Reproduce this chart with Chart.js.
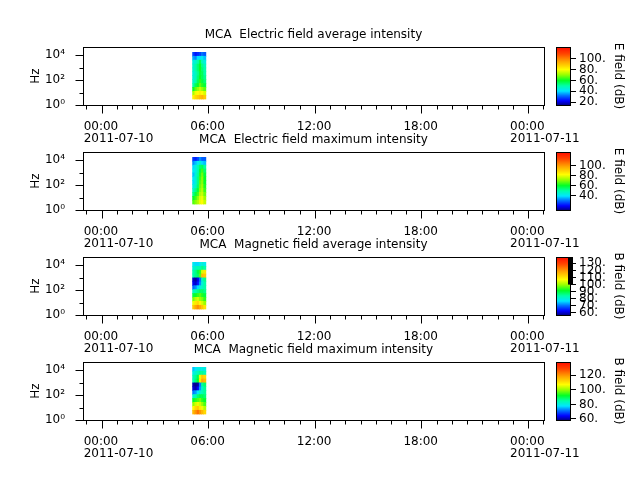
<!DOCTYPE html>
<html lang="en">
<head>
<meta charset="UTF-8">
<title>MCA spectrograms</title>
<script src="https://cdn.jsdelivr.net/npm/chart.js"></script>
<style>
  body { margin: 0; background: #fff; }
  #wrap { position: relative; width: 640px; height: 480px; overflow: hidden; }
  #wrap canvas { position: absolute; }
</style>
</head>
<body>
<div id="wrap"></div>
<script>
// ---- data ----
const titles = [
  'MCA  Electric field average intensity',
  'MCA  Electric field maximum intensity',
  'MCA  Magnetic field average intensity',
  'MCA  Magnetic field maximum intensity'
];
const cbTitles = ['E field (dB)', 'E field (dB)', 'B field (dB)', 'B field (dB)'];
const cbRanges = [[15, 121], [11, 127], [57, 139], [58.6, 138.4]];
const cbTicks = [
  [20, 40, 60, 80, 100],
  [40, 60, 80, 100],
  [60, 70, 80, 90, 100, 110, 120, 130],
  [60, 80, 100, 120]
];
const timeTicks = [0, 6, 12, 18, 24];          // hours
const dateLabels = ['2011-07-10', '2011-07-11'];
const yTicks = [1, 100, 10000];
const yTickLabels = ['10\u2070', '10\u00b2', '10\u2074'];
const yMinorTicks = [10, 1000];

const colTimes = [5.18, 5.305, 5.43, 5.555, 5.68, 5.805];   // column centres, hours UT
const freqEdges = [3, 6, 12.5, 26, 53, 108, 222, 455, 930, 1900, 3900, 8000, 16500]; // Hz

// rows: lowest frequency band first, one dB value per column
const eAvg = [
  [82, 86, 88, 90, 92, 88],
  [72, 78, 80, 82, 80, 76],
  [60, 66, 70, 74, 70, 66],
  [50, 56, 60, 66, 62, 58],
  [46, 50, 56, 62, 58, 54],
  [45, 48, 54, 60, 56, 52],
  [44, 48, 52, 58, 56, 50],
  [46, 50, 54, 60, 54, 50],
  [46, 50, 54, 60, 52, 48],
  [44, 46, 50, 56, 48, 44],
  [36, 34, 40, 40, 42, 38],
  [28, 24, 26, 28, 32, 30]
];
const eMax = [
  [66, 70, 74, 80, 82, 76],
  [60, 64, 70, 78, 80, 72],
  [52, 58, 64, 74, 76, 68],
  [46, 52, 58, 70, 74, 64],
  [42, 46, 54, 68, 72, 62],
  [38, 44, 52, 66, 70, 60],
  [40, 44, 52, 64, 70, 60],
  [36, 44, 50, 62, 68, 58],
  [40, 42, 48, 58, 64, 54],
  [38, 42, 48, 54, 56, 50],
  [32, 36, 40, 44, 38, 36],
  [24, 22, 26, 32, 28, 28]
];
const bAvg = [
  [114, 118, 121, 118, 114, 110],
  [106, 110, 112, 108, 104, 100],
  [98, 102, 104, 100, 98, 94],
  [90, 92, 94, 96, 93, 90],
  [82, 84, 86, 88, 88, 86],
  [70, 72, 76, 80, 82, 84],
  [62, 60, 64, 72, 80, 84],
  [60, 58, 62, 70, 82, 86],
  [84, 86, 88, 96, 116, 114],
  [84, 86, 90, 94, 104, 110],
  [80, 82, 84, 84, 86, 84],
  [78, 76, 76, 78, 80, 78]
];
const bMax = [
  [116, 120, 124, 120, 116, 112],
  [108, 112, 114, 110, 106, 102],
  [100, 104, 106, 104, 100, 96],
  [92, 94, 96, 98, 94, 92],
  [82, 84, 88, 90, 90, 88],
  [72, 74, 78, 82, 84, 86],
  [62, 60, 64, 74, 82, 86],
  [60, 58, 60, 72, 86, 88],
  [84, 88, 92, 110, 118, 116],
  [84, 86, 90, 106, 114, 112],
  [80, 82, 84, 86, 86, 84],
  [76, 78, 80, 80, 80, 80]
];
const grids = [eAvg, eMax, bAvg, bMax];

// ---- layout / style ----
const FONT = "'DejaVu Sans', sans-serif";
Chart.defaults.font.family = FONT;
Chart.defaults.color = '#000';
const panelTop = [47, 152, 257, 362];
const panelH = 58;

const cmapStops = [
  [0, 0, 0, 140], [0.07, 0, 0, 255], [0.16, 0, 110, 255], [0.24, 0, 230, 255],
  [0.33, 0, 255, 170], [0.42, 0, 255, 40], [0.52, 150, 255, 0], [0.61, 255, 255, 0],
  [0.75, 255, 165, 0], [0.88, 255, 70, 0], [1, 255, 10, 0]
];
function cmap(f) {
  f = Math.min(1, Math.max(0, f));
  for (let i = 1; i < cmapStops.length; i++) {
    if (f <= cmapStops[i][0]) {
      const a = cmapStops[i - 1], b = cmapStops[i];
      const t = (f - a[0]) / (b[0] - a[0]);
      const c = [1, 2, 3].map(k => Math.round(a[k] + (b[k] - a[k]) * t));
      return `rgb(${c[0]},${c[1]},${c[2]})`;
    }
  }
  return 'rgb(255,10,0)';
}

const wrap = document.getElementById('wrap');
function makeCanvas(left, top, w, h) {
  const c = document.createElement('canvas');
  c.width = w; c.height = h;
  c.style.left = left + 'px'; c.style.top = top + 'px';
  c.style.width = w + 'px'; c.style.height = h + 'px';
  wrap.appendChild(c);
  return c;
}

function line(ctx, x1, y1, x2, y2) {
  ctx.beginPath(); ctx.moveTo(x1, y1); ctx.lineTo(x2, y2); ctx.stroke();
}

// box round the axes plus major/minor ticks (matplotlib style)
const axesFrame = {
  id: 'axesFrame',
  afterDraw(chart) {
    const { ctx, chartArea: a, scales: { x, y } } = chart;
    ctx.save();
    ctx.strokeStyle = '#000'; ctx.lineWidth = 1;
    const L = Math.round(a.left) + 0.5, T = Math.round(a.top) + 0.5;
    const R = Math.round(a.right) + 0.5, B = Math.round(a.bottom) + 0.5;
    ctx.strokeRect(L, T, R - L, B - T);
    timeTicks.forEach(v => { const px = Math.round(x.getPixelForValue(v)) + 0.5; line(ctx, px, B, px, B + 8); });
    for (let k = -7; k <= 35; k++) {
      const v = k * 6 / 7;
      if (k % 7 === 0 || v < x.min || v > x.max) continue;
      const px = Math.round(x.getPixelForValue(v)) + 0.5;
      line(ctx, px, B, px, B + 4);
    }
    yTicks.forEach(v => { const py = Math.round(y.getPixelForValue(v)) + 0.5; line(ctx, L, py, L - 8, py); });
    yMinorTicks.forEach(v => { const py = Math.round(y.getPixelForValue(v)) + 0.5; line(ctx, L, py, L - 4, py); });
    ctx.restore();
  }
};

function makePanel(i) {
  const grid = grids[i];
  const [lo, hi] = cbRanges[i];
  const canvas = makeCanvas(0, panelTop[i] - 25, 640, 25 + panelH + 40);
  new Chart(canvas, {
    type: 'bar',
    data: {
      datasets: grid.map((row, r) => ({
        data: colTimes.map((t, c) => ({ x: t, y: [freqEdges[r], freqEdges[r + 1]], v: row[c] })),
        backgroundColor: ctx => ctx.raw ? cmap((ctx.raw.v - lo) / (hi - lo)) : '#000',
        borderWidth: 0,
        barPercentage: 1,
        categoryPercentage: 1,
        grouped: false
      }))
    },
    options: {
      responsive: false,
      animation: false,
      events: [],
      layout: { padding: { right: 96 } },
      plugins: {
        legend: { display: false },
        tooltip: { enabled: false },
        title: {
          display: true, text: titles[i], fullSize: false, color: '#000',
          font: { family: FONT, size: 12, weight: 'normal', lineHeight: 1.2 },
          padding: { top: 5.5, bottom: 5.1 }
        }
      },
      scales: {
        x: {
          type: 'linear', min: -1.05, max: 24.9, offset: false,
          grid: { display: false, drawTicks: false },
          border: { display: false },
          afterBuildTicks: s => { s.ticks = timeTicks.map(v => ({ value: v })); },
          afterFit: s => { s.height = 40; s.paddingLeft = 0; s.paddingRight = 0; },
          ticks: {
            autoSkip: false, maxRotation: 0, minRotation: 0,
            align: 'start', labelOffset: -18, padding: 16.5, color: '#000',
            font: { family: FONT, size: 12, lineHeight: 0.95 },
            callback: v => v === 0 ? ['00:00', dateLabels[0]]
              : v === 24 ? ['00:00', dateLabels[1]]
              : String(v).padStart(2, '0') + ':00'
          }
        },
        y: {
          type: 'logarithmic', min: 1, max: 44000,
          grid: { display: false, drawTicks: false },
          border: { display: false },
          afterBuildTicks: s => { s.ticks = yTicks.map(v => ({ value: v })); },
          afterFit: s => { s.width = 83; s.paddingTop = 0; s.paddingBottom = 0; },
          ticks: {
            autoSkip: false, padding: 18, color: '#000',
            font: { family: FONT, size: 12 },
            callback: v => yTickLabels[yTicks.indexOf(v)] ?? ''
          },
          title: {
            display: true, text: 'Hz', color: '#000',
            font: { family: FONT, size: 12 },
            padding: { top: 29, bottom: 0 }
          }
        }
      }
    },
    plugins: [axesFrame]
  });
}

function makeColorbar(i) {
  const [lo, hi] = cbRanges[i];
  const canvas = makeCanvas(540, panelTop[i] - 10, 100, panelH + 20);
  const fill = {
    id: 'colorbarFill',
    beforeDatasetsDraw(chart) {
      const { ctx, chartArea: a, scales: { y } } = chart;
      for (let py = Math.floor(a.top); py < Math.ceil(a.bottom); py++) {
        const v = y.getValueForPixel(py + 0.5);
        ctx.fillStyle = cmap((v - lo) / (hi - lo));
        ctx.fillRect(a.left, py, a.width, 1);
      }
    },
    afterDraw(chart) {
      const { ctx, chartArea: a, scales: { y } } = chart;
      ctx.save();
      if (i === 2) {   // dense tick strip on the upper part of this colorbar
        ctx.fillStyle = '#000';
        const yb = y.getPixelForValue(100);
        ctx.fillRect(a.right - 3, a.top, 5, yb - a.top);
      }
      ctx.strokeStyle = '#000'; ctx.lineWidth = 1;
      const L = Math.round(a.left) + 0.5, T = Math.round(a.top) + 0.5;
      const R = Math.round(a.right) - 0.5, B = Math.round(a.bottom) + 0.5;
      ctx.strokeRect(L, T, R - L, B - T);
      ctx.restore();
    }
  };
  new Chart(canvas, {
    type: 'bar',
    data: { labels: [''], datasets: [] },
    options: {
      responsive: false,
      animation: false,
      events: [],
      layout: { padding: { left: 16, top: 10, bottom: 10, right: 0 } },
      plugins: { legend: { display: false }, tooltip: { enabled: false } },
      scales: {
        x: { display: false },
        y: {
          type: 'linear', position: 'right', min: lo, max: hi,
          grid: { display: true, drawOnChartArea: false, drawTicks: true, tickLength: 5, color: '#000' },
          border: { display: false },
          afterBuildTicks: s => { s.ticks = cbTicks[i].map(v => ({ value: v })); },
          afterFit: s => { s.width = 69; s.paddingTop = 0; s.paddingBottom = 0; },
          ticks: {
            autoSkip: false, padding: 3, color: '#000',
            font: { family: FONT, size: 12 },
            callback: v => v + '.'
          },
          title: {
            display: true, text: cbTitles[i], color: '#000',
            font: { family: FONT, size: 12 },
            padding: { top: 14.8, bottom: 0 }
          }
        }
      }
    },
    plugins: [fill]
  });
}

for (let i = 0; i < 4; i++) {
  makePanel(i);
  makeColorbar(i);
}
</script>
</body>
</html>
